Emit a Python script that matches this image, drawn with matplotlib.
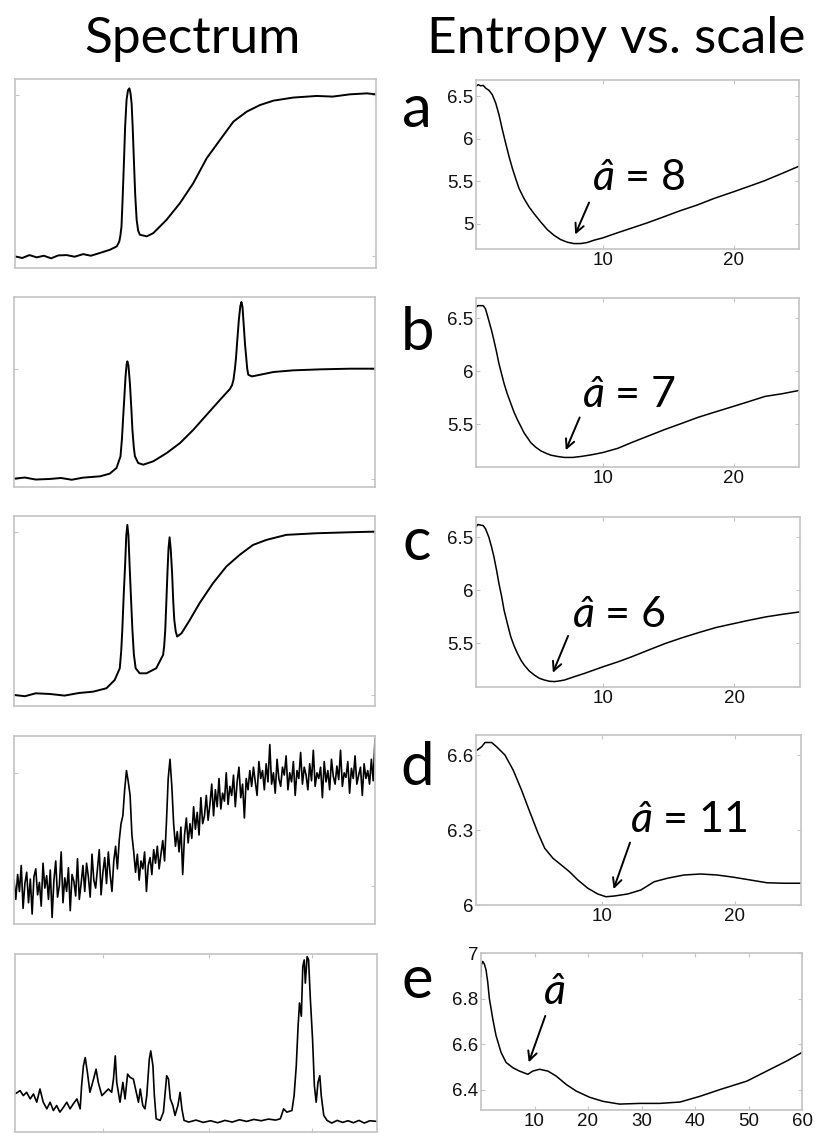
import matplotlib

matplotlib.use("Agg")
import matplotlib.pyplot as plt

# ---- spectra (channel 0..1000, normalised intensity) ----
SPEC_A_X = [0, 20, 40, 60, 80, 100, 120, 143, 165, 189, 210, 235, 263, 282, 289, 292, 295, 298, 302, 305,
            309, 313, 317, 320, 323, 326, 330, 333, 337, 341, 346, 365, 383, 420, 457, 494, 531, 568,
            605, 642, 679, 716, 771, 836, 880, 928, 975, 1000]
SPEC_A_Y = [0.0, -0.010, 0.008, -0.006, 0.004, -0.012, 0.006, 0.008, -0.002, 0.014, 0.004, 0.021, 0.041,
            0.062, 0.093, 0.13, 0.186, 0.35, 0.598, 0.80, 0.969, 1.03, 1.041, 1.01, 0.948, 0.80, 0.557,
            0.38, 0.227, 0.16, 0.134, 0.124, 0.144, 0.227, 0.330, 0.454, 0.608, 0.722, 0.835, 0.897,
            0.938, 0.965, 0.984, 0.994, 0.990, 1.004, 1.010, 1.004]

SPEC_B_X = [0, 30, 60, 99, 130, 160, 191, 238, 265, 284, 295, 299, 302, 306, 309, 312, 314, 317, 321,
            325, 328, 332, 335, 344, 358, 386, 423, 460, 497, 534, 571, 598, 604, 608, 612, 615, 619,
            623, 627, 630, 633, 636, 640, 643, 646, 649, 659, 682, 719, 774, 848, 931, 1000]
SPEC_B_Y = [0.0, 0.010, -0.008, -0.003, 0.006, -0.010, 0.009, 0.021, 0.045, 0.097, 0.203, 0.36, 0.536,
            0.76, 0.930, 1.04, 1.067, 1.03, 0.870, 0.64, 0.445, 0.28, 0.203, 0.142, 0.127, 0.158, 0.233,
            0.324, 0.445, 0.582, 0.718, 0.815, 0.85, 0.90, 1.0, 1.10, 1.28, 1.45, 1.57, 1.606, 1.56,
            1.415, 1.22, 1.112, 1.0, 0.945, 0.930, 0.945, 0.970, 0.985, 0.994, 1.0, 1.0]

SPEC_C_X = [0, 30, 60, 99, 140, 180, 219, 256, 279, 293, 297, 300, 304, 308, 311, 314, 317, 320, 324,
            328, 332, 337, 348, 367, 394, 413, 416, 419, 422, 425, 428, 431, 434, 438, 441, 444, 448,
            452, 464, 487, 514, 551, 588, 625, 662, 699, 754, 838, 930, 1000]
SPEC_C_Y = [0.0, -0.008, 0.010, 0.006, -0.004, 0.012, 0.020, 0.041, 0.092, 0.164, 0.27, 0.400, 0.62,
            0.809, 0.98, 1.045, 0.98, 0.809, 0.60, 0.400, 0.25, 0.164, 0.133, 0.133, 0.164, 0.246, 0.30,
            0.400, 0.57, 0.748, 0.90, 0.969, 0.90, 0.748, 0.58, 0.461, 0.39, 0.359, 0.379, 0.461, 0.564,
            0.686, 0.789, 0.861, 0.922, 0.953, 0.984, 0.994, 1.0, 1.004]

# noisy spectrum, 200 equally spaced channels
SPEC_D_Y = [
    0.05, -0.12, 0.10, -0.05, 0.18, -0.20, 0.02, 0.12, -0.15, 0.06,
    -0.25, 0.08, 0.15, -0.08, 0.03, -0.18, 0.20, -0.02, 0.09, -0.12,
    0.14, -0.28, 0.05, 0.22, -0.10, 0.00, 0.30, -0.15, 0.07, -0.05,
    0.16, -0.22, 0.10, 0.04, -0.09, 0.24, -0.12, 0.02, 0.18,
    -0.05, 0.20, 0.08, -0.10, 0.28, 0.05, -0.02, 0.15, 0.32, -0.08, 0.12, 0.25, 0.02, 0.30, 0.10,
    -0.05, 0.22,
    0.35, 0.15, 0.40, 0.55, 0.62,
    0.85, 1.02, 0.92, 0.80, 0.45, 0.30, 0.12, 0.28,
    0.05, 0.22, 0.15, 0.30, -0.05, 0.18, 0.25, 0.10, 0.32, 0.20, 0.35, 0.15, 0.28, 0.40, 0.22,
    0.55, 0.95, 1.12, 0.88, 0.55, 0.35,
    0.48, 0.30, 0.52, 0.10, 0.45, 0.60, 0.38, 0.55, 0.42, 0.70, 0.50, 0.65, 0.45, 0.78, 0.55, 0.62,
    0.80, 0.58, 0.72, 0.90, 0.62, 0.85, 0.70, 0.95, 0.68, 0.82, 0.75, 1.00, 0.72, 0.88, 0.80, 0.98,
    0.70, 0.92, 1.05, 0.78, 0.90, 0.60, 0.95, 0.85, 1.02,
    0.88, 1.05, 0.92, 0.80, 1.10, 0.95, 1.02, 0.85, 1.08, 0.92,
    1.25, 0.90, 1.00, 0.82, 1.12, 0.95, 0.88, 1.05, 0.98, 1.15,
    0.85, 1.00, 0.92, 1.10, 0.80, 1.02, 0.95, 1.18, 0.90, 1.05,
    0.98, 0.85, 1.08, 0.93, 1.20, 0.88, 1.00, 0.95, 1.05, 0.78,
    1.10, 0.92, 1.02, 0.85, 1.12, 0.97, 0.90, 1.06, 0.94, 1.20,
    0.88, 1.00, 0.96, 1.10, 0.82, 1.04, 0.95, 1.15, 0.90, 0.98,
    1.05, 0.80, 1.08, 0.95, 1.02, 0.90, 1.12, 0.93, 1.30,
]
SPEC_D_X = [i * 1000 / (len(SPEC_D_Y) - 1) for i in range(len(SPEC_D_Y))]

SPEC_E_X = [0, 14, 23, 32, 42, 51, 60, 69, 78, 88, 97, 106, 115, 124, 134, 143, 152, 161, 171, 180,
            184, 189, 194, 200, 207, 217, 224, 230, 240, 249, 258, 267, 272, 277, 281, 290, 298, 304,
            311, 318, 327, 335, 341, 346, 353, 359, 364, 371, 375, 381, 385, 390, 401, 410, 419, 424,
            429, 436, 442, 450, 456, 461, 467, 480, 500, 520, 540, 560, 580, 600, 620, 640, 660, 680,
            700, 720, 733, 742, 751, 765, 771, 777, 782, 786, 791, 795, 799, 802, 807, 811, 816, 822,
            827, 832, 837, 842, 846, 853, 862, 875, 890, 905, 920, 935, 950, 965, 980, 1000]
SPEC_E_Y = [0.166, 0.186, 0.156, 0.176, 0.136, 0.166, 0.116, 0.196, 0.116, 0.076, 0.116, 0.066, 0.096,
            0.056, 0.086, 0.116, 0.076, 0.106, 0.136, 0.076, 0.216, 0.336, 0.386, 0.296, 0.176, 0.256,
            0.316, 0.236, 0.156, 0.176, 0.196, 0.176, 0.256, 0.396, 0.236, 0.116, 0.236, 0.136, 0.286,
            0.266, 0.256, 0.176, 0.116, 0.196, 0.096, 0.076, 0.156, 0.376, 0.426, 0.336, 0.156, 0.016,
            0.006, 0.056, 0.276, 0.256, 0.136, 0.096, 0.036, 0.096, 0.176, 0.076, 0.006, -0.004, 0.008,
            -0.006, 0.004, -0.008, 0.006, -0.004, 0.010, 0.000, 0.012, 0.004, 0.014, 0.008, 0.016,
            0.076, 0.056, 0.066, 0.156, 0.336, 0.576, 0.716, 0.636, 0.936, 0.976, 0.836, 0.996, 0.976,
            0.736, 0.496, 0.216, 0.116, 0.236, 0.276, 0.156, 0.036, 0.006, -0.010, 0.006, -0.006, 0.004,
            -0.008, 0.006, -0.010, 0.004, 0.000]

# ---- entropy vs. scale ----
ENT_A_X = [0.10, 0.28, 0.46, 0.66, 0.86, 1.04, 1.30, 1.55, 1.81, 2.06, 2.32, 2.57, 2.83, 3.08, 3.33,
           3.59, 3.97, 4.35, 4.73, 5.24, 5.75, 6.26, 6.77, 7.28, 7.79, 8.30, 8.80, 9.31, 10.0, 11.1,
           12.1, 13.4, 14.66, 15.9, 17.2, 18.5, 20.0, 21.3, 22.3, 23.6, 25.0]
ENT_A_Y = [6.555, 6.614, 6.634, 6.622, 6.626, 6.594, 6.567, 6.516, 6.417, 6.280, 6.102, 5.945, 5.787,
           5.650, 5.531, 5.413, 5.295, 5.197, 5.118, 5.020, 4.929, 4.862, 4.811, 4.780, 4.764, 4.764,
           4.776, 4.803, 4.831, 4.890, 4.941, 5.008, 5.079, 5.150, 5.217, 5.295, 5.374, 5.445, 5.50,
           5.583, 5.675]

ENT_B_X = [0.08, 0.26, 0.44, 0.85, 1.03, 1.28, 1.49, 1.67, 1.87, 2.05, 2.44, 2.69, 2.95, 3.21, 3.46,
           3.72, 3.97, 4.23, 4.49, 4.87, 5.26, 5.64, 6.03, 6.54, 7.05, 7.69, 8.33, 9.1, 10.0, 11.15,
           12.18, 13.46, 14.74, 16.0, 17.3, 18.6, 20.0, 21.2, 22.4, 23.7, 25.0]
ENT_B_Y = [6.525, 6.596, 6.618, 6.618, 6.587, 6.478, 6.385, 6.292, 6.183, 6.075, 5.888, 5.789, 5.702,
           5.615, 5.547, 5.484, 5.422, 5.376, 5.329, 5.286, 5.252, 5.23, 5.211, 5.199, 5.190, 5.190,
           5.199, 5.214, 5.236, 5.276, 5.329, 5.391, 5.453, 5.509, 5.568, 5.618, 5.671, 5.717, 5.764,
           5.789, 5.820]

ENT_C_X = [0.13, 0.28, 0.44, 0.85, 1.03, 1.28, 1.49, 1.67, 1.87, 2.05, 2.26, 2.44, 2.69, 2.95, 3.21,
           3.46, 3.72, 3.97, 4.36, 4.74, 5.13, 5.51, 5.90, 6.28, 6.67, 7.05, 7.82, 8.59, 10.0, 11.15,
           12.18, 13.46, 14.74, 16.0, 17.3, 18.6, 20.0, 21.15, 22.4, 23.7, 25.0]
ENT_C_Y = [6.531, 6.594, 6.619, 6.609, 6.578, 6.50, 6.406, 6.313, 6.188, 6.063, 5.938, 5.813, 5.688,
           5.563, 5.475, 5.406, 5.344, 5.297, 5.241, 5.203, 5.172, 5.156, 5.144, 5.141, 5.147, 5.156,
           5.188, 5.219, 5.281, 5.328, 5.375, 5.438, 5.50, 5.553, 5.603, 5.650, 5.688, 5.719, 5.75,
           5.775, 5.797]

ENT_D_X = [0.6, 0.93, 1.18, 1.68, 2.05, 2.68, 3.3, 3.93, 4.55, 5.18, 5.68, 6.3, 6.93, 7.55, 8.18, 8.93,
           9.68, 10.3, 10.93, 11.93, 12.93, 13.93, 14.93, 16.18, 17.43, 18.68, 19.93, 21.18, 22.43,
           23.68, 25.0]
ENT_D_Y = [6.62, 6.633, 6.65, 6.65, 6.633, 6.60, 6.54, 6.46, 6.373, 6.287, 6.227, 6.187, 6.16, 6.133,
           6.10, 6.067, 6.044, 6.033, 6.036, 6.044, 6.06, 6.093, 6.107, 6.12, 6.124, 6.12, 6.111, 6.10,
           6.089, 6.087, 6.087]

ENT_E_X = [0.0, 0.06, 0.31, 0.63, 0.94, 1.25, 1.56, 1.88, 2.19, 2.81, 3.75, 4.69, 5.94, 7.19, 8.75,
           9.69, 10.94, 12.5, 14.06, 15.94, 17.81, 20.3, 22.8, 25.9, 29.7, 33.4, 37.2, 40.9, 44.7,
           49.7, 53.4, 57.2, 60.0]
ENT_E_Y = [6.896, 6.948, 6.963, 6.951, 6.926, 6.874, 6.80, 6.756, 6.711, 6.637, 6.563, 6.519, 6.496,
           6.481, 6.467, 6.481, 6.489, 6.481, 6.459, 6.422, 6.393, 6.366, 6.348, 6.336, 6.339, 6.339,
           6.345, 6.37, 6.40, 6.437, 6.481, 6.526, 6.563]

ROW_LABELS = ["a", "b", "c", "d", "e"]
A_HAT = ["8", "7", "6", "11", None]

plt.rcParams["mathtext.fontset"] = "custom"
plt.rcParams["mathtext.it"] = "Lato:italic"
plt.rcParams["mathtext.rm"] = "Lato"

SPINE = "#c4c4c4"
TICK_FONT = "Liberation Sans"
CAL_FONT = "Lato"

W, H = 815, 1134
fig = plt.figure(figsize=(W / 100, H / 100), dpi=100, facecolor="white")


def axes_px(x0, y0, x1, y1):
    return fig.add_axes([x0 / W, 1 - y1 / H, (x1 - x0) / W, (y1 - y0) / H])


def box_style(ax):
    for s in ax.spines.values():
        s.set_color(SPINE)
        s.set_linewidth(1.2)
    ax.tick_params(direction="in", length=3, width=0.8, color=SPINE, top=True, right=True,
                   labelsize=13.5, labelcolor="#111111", pad=2)
    for lab in ax.get_xticklabels() + ax.get_yticklabels():
        lab.set_fontfamily(TICK_FONT)


# spectrum panels
left_boxes = [(15, 79, 376, 268), (14, 297, 375, 487), (14, 516, 375, 706), (14, 736, 375, 924),
              (15, 954, 377, 1132)]
left_ylims = [(-0.072, 1.099), (-0.076, 1.652), (-0.068, 1.100), (-0.338, 1.326), (-0.064, 1.012)]
spectra = [(SPEC_A_X, SPEC_A_Y), (SPEC_B_X, SPEC_B_Y), (SPEC_C_X, SPEC_C_Y), (SPEC_D_X, SPEC_D_Y),
           (SPEC_E_X, SPEC_E_Y)]

for i, ((sx, sy), box, yl) in enumerate(zip(spectra, left_boxes, left_ylims)):
    ax = axes_px(*box)
    ax.plot(sx, sy, color="black", lw=1.4 if i < 3 else 1.2, solid_joinstyle="round")
    ax.set_xlim(0, 1000)
    ax.set_ylim(*yl)
    box_style(ax)
    if i < 4:
        ax.set_xticks([])
        ax.set_yticks([0, 1])
    else:
        ax.set_xticks([244, 535, 820])
        ax.set_yticks([])
    ax.set_xticklabels([])
    ax.set_yticklabels([])

# entropy panels
right_boxes = [(476, 80, 799, 249), (476, 298, 799, 467), (476, 517, 800, 687), (476, 735, 801, 905),
               (481, 953, 802, 1110)]
right_xlims = [(0.3, 25), (0.3, 25), (0.3, 25), (0.5, 25), (0, 60)]
right_ylims = [(4.70, 6.69), (5.10, 6.69), (5.09, 6.69), (6.0, 6.68), (6.31, 7.0)]
right_yticks = [[5, 5.5, 6, 6.5], [5.5, 6, 6.5], [5.5, 6, 6.5], [6, 6.3, 6.6], [6.4, 6.6, 6.8, 7]]
right_xticks = [[10, 20]] * 4 + [[10, 20, 30, 40, 50, 60]]
entropy = [(ENT_A_X, ENT_A_Y), (ENT_B_X, ENT_B_Y), (ENT_C_X, ENT_C_Y), (ENT_D_X, ENT_D_Y),
           (ENT_E_X, ENT_E_Y)]

# annotation geometry: text anchor, arrow tail, arrow tip (data coords)
ann_text = [(9.2, 5.39), (8.4, 5.667), (7.6, 5.655), (12.1, 6.293), (11.56, 6.776)]
ann_tail = [(9.03, 5.277), (8.31, 5.59), (7.4, 5.595), (12.18, 6.26), (12.19, 6.735)]
ann_tip = [(7.8, 4.84), (7.08, 5.234), (6.08, 5.20), (10.8, 6.053), (8.75, 6.508)]
label_y = [110, 333, 543, 768, 981]

for i, ((ex, ey), box) in enumerate(zip(entropy, right_boxes)):
    ax = axes_px(*box)
    ax.plot(ex, ey, color="black", lw=1.1)
    ax.set_xlim(*right_xlims[i])
    ax.set_ylim(*right_ylims[i])
    ax.set_xticks(right_xticks[i])
    ax.set_yticks(right_yticks[i])
    ax.set_yticklabels([f"{v:g}" for v in right_yticks[i]])
    box_style(ax)

    txt = r"$â$" if A_HAT[i] is None else r"$â$ = " + A_HAT[i]
    ax.text(*ann_text[i], txt, fontsize=31, family=CAL_FONT, ha="left", va="baseline", color="black")
    ax.annotate("", xy=ann_tip[i], xytext=ann_tail[i],
                arrowprops=dict(arrowstyle="->", lw=1.4, color="black", mutation_scale=16))

    fig.text(417 / W, 1 - label_y[i] / H, ROW_LABELS[i], fontsize=43, family=CAL_FONT,
             ha="center", va="center")

fig.text(192 / W, 1 - 53 / H, "Spectrum", fontsize=37, family=CAL_FONT, ha="center", va="baseline")
fig.text(616 / W, 1 - 53 / H, "Entropy vs. scale", fontsize=37, family=CAL_FONT, ha="center",
         va="baseline")

fig.savefig("out.png", dpi=100, facecolor="white")
